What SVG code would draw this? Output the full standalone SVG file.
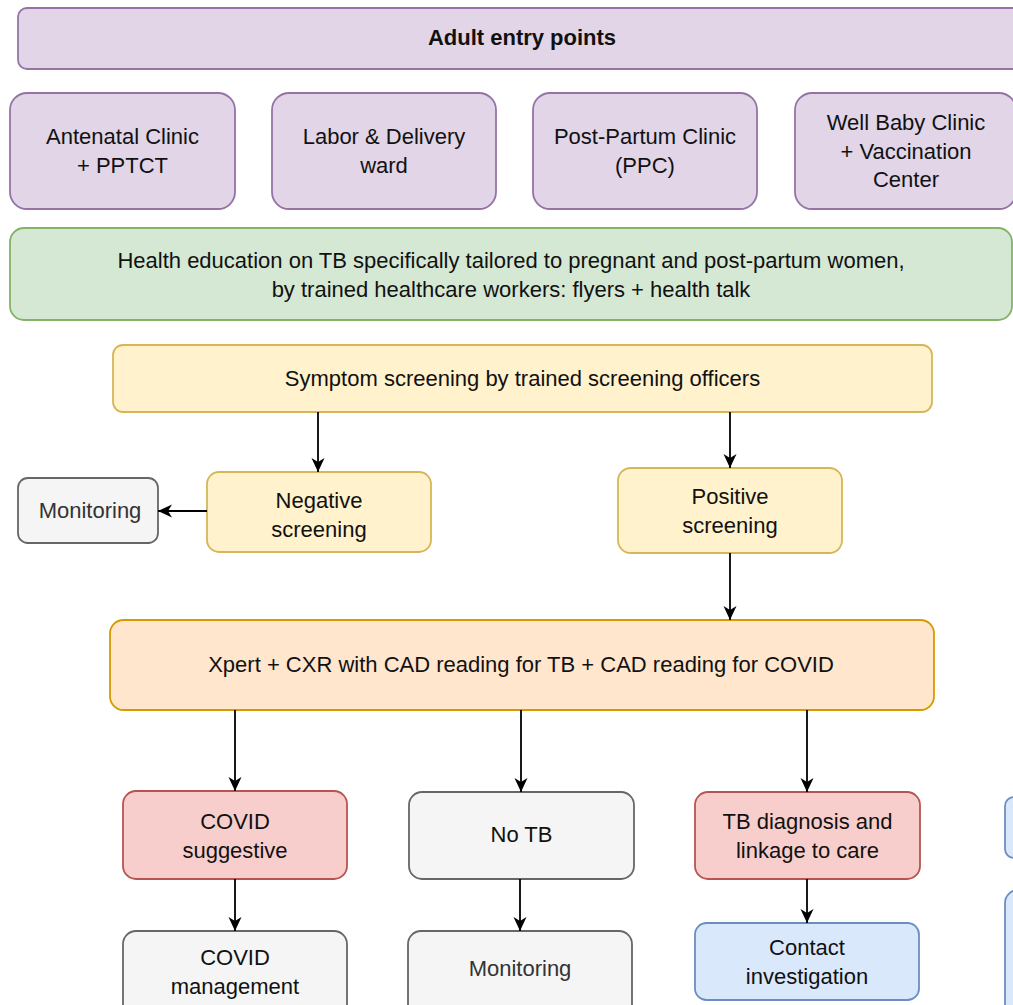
<svg xmlns="http://www.w3.org/2000/svg" width="1013" height="1005" viewBox="0 0 1013 1005">
<style>
text{font-family:"Liberation Sans",Arial,Helvetica,sans-serif;font-size:22px;text-anchor:middle;fill:#111}
.b{font-weight:bold}
.pu{fill:#e1d5e7;stroke:#9673a6;stroke-width:1.8}
.gr{fill:#d5e8d4;stroke:#82b366;stroke-width:1.8}
.ye{fill:#fff2cc;stroke:#d6b656;stroke-width:1.8}
.or{fill:#ffe6cc;stroke:#d79b00;stroke-width:1.8}
.re{fill:#f8cecc;stroke:#b85450;stroke-width:1.8}
.gy{fill:#f5f5f5;stroke:#666666;stroke-width:1.8}
.bl{fill:#dae8fc;stroke:#6c8ebf;stroke-width:1.8}
.gt{fill:#333333}
.c{stroke:#000;stroke-width:1.8;fill:none;marker-end:url(#arr)}
</style>
<defs>
<marker id="arr" markerUnits="userSpaceOnUse" markerWidth="16" markerHeight="16" viewBox="0 0 16 16" refX="15" refY="8" orient="auto">
<path d="M1,1.5 L15,8 L1,14.5 L5,8 z" fill="#000"/>
</marker>
</defs>
<rect width="1013" height="1005" fill="#fff"/>
<g id="n-adult"><rect class="pu" x="18" y="8" width="1010" height="61" rx="9"/><text class="b" x="522" y="45">Adult entry points</text></g>
<g id="n-antenatal"><rect class="pu" x="10" y="93" width="225" height="116" rx="17"/><text x="122.5" y="144">Antenatal Clinic</text><text x="122.5" y="173">+ PPTCT</text></g>
<g id="n-labor"><rect class="pu" x="272" y="93" width="224" height="116" rx="17"/><text x="384" y="144">Labor &amp; Delivery</text><text x="384" y="173">ward</text></g>
<g id="n-ppc"><rect class="pu" x="533" y="93" width="224" height="116" rx="17"/><text x="645" y="144">Post-Partum Clinic</text><text x="645" y="173">(PPC)</text></g>
<g id="n-wellbaby"><rect class="pu" x="795" y="93" width="221" height="116" rx="17"/><text x="906" y="130">Well Baby Clinic</text><text x="906" y="158.5">+ Vaccination</text><text x="906" y="187">Center</text></g>
<g id="n-health"><rect class="gr" x="10" y="228" width="1002" height="92" rx="14"/><text x="511" y="268">Health education on TB specifically tailored to pregnant and post-partum women,</text><text x="511" y="297">by trained healthcare workers: flyers + health talk</text></g>
<g id="n-symptom"><rect class="ye" x="113" y="345" width="819" height="67" rx="10"/><text x="522.5" y="386">Symptom screening by trained screening officers</text></g>
<g id="n-monitor1"><rect class="gy" x="18" y="478" width="140" height="65" rx="9.75"/><text class="gt" x="90" y="518">Monitoring</text></g>
<g id="n-negative"><rect class="ye" x="207" y="472" width="224" height="80" rx="12"/><text x="319" y="508">Negative</text><text x="319" y="537">screening</text></g>
<g id="n-positive"><rect class="ye" x="618" y="468" width="224" height="85" rx="12.75"/><text x="730" y="504">Positive</text><text x="730" y="533">screening</text></g>
<g id="n-xpert"><rect class="or" x="110" y="620" width="824" height="90" rx="13.5"/><text x="521" y="672">Xpert + CXR with CAD reading for TB + CAD reading for COVID</text></g>
<g id="n-covid"><rect class="re" x="123" y="791" width="224" height="88" rx="13"/><text x="235" y="829">COVID</text><text x="235" y="858">suggestive</text></g>
<g id="n-notb"><rect class="gy" x="409" y="792" width="225" height="87" rx="13"/><text x="521.5" y="842">No TB</text></g>
<g id="n-tbdiag"><rect class="re" x="695" y="792" width="225" height="87" rx="13"/><text x="807.5" y="829">TB diagnosis and</text><text x="807.5" y="858">linkage to care</text></g>
<g id="n-right1"><rect class="bl" x="1005" y="797" width="225" height="61" rx="9"/></g>
<g id="n-covidmgmt"><rect class="gy" x="123" y="931" width="224" height="88" rx="13"/><text x="235" y="965">COVID</text><text x="235" y="994">management</text></g>
<g id="n-monitor2"><rect class="gy" x="408" y="931" width="224" height="88" rx="13"/><text class="gt" x="520" y="976">Monitoring</text></g>
<g id="n-contact"><rect class="bl" x="695" y="923" width="224" height="77" rx="11.5"/><text x="807" y="955">Contact</text><text x="807" y="984">investigation</text></g>
<g id="n-right2"><rect class="bl" x="1005" y="890" width="225" height="130" rx="13"/></g>
<g id="connectors">
<path class="c" d="M318,412 V472"/>
<path class="c" d="M730,412 V468"/>
<path class="c" d="M207,511 H158"/>
<path class="c" d="M730,553 V620"/>
<path class="c" d="M235,710 V791"/>
<path class="c" d="M521,710 V792"/>
<path class="c" d="M807,710 V792"/>
<path class="c" d="M235,879 V931"/>
<path class="c" d="M520,879 V931"/>
<path class="c" d="M807,879 V923"/>
</g>
</svg>
